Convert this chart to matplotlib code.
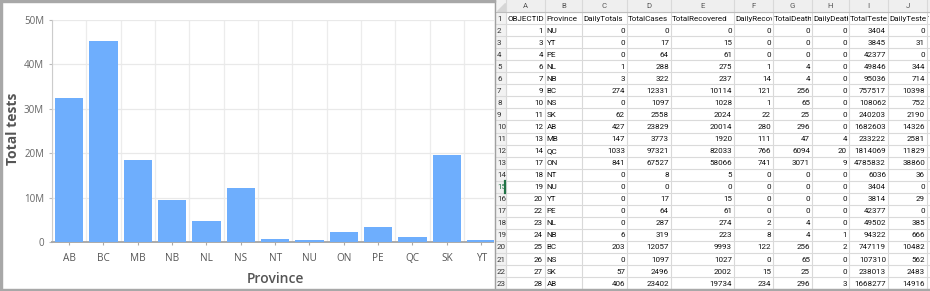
import matplotlib
matplotlib.use('Agg')
import matplotlib.pyplot as plt
from matplotlib.patches import Rectangle
from matplotlib.transforms import Bbox
import numpy as np

# ---------------- chart data ----------------
provinces = ['AB', 'BC', 'MB', 'NB', 'NL', 'NS', 'NT', 'NU', 'ON', 'PE', 'QC', 'SK', 'YT']
total_tests_m = [32.5, 45.2, 18.5, 9.4, 4.65, 12.2, 0.75, 0.4, 2.25, 3.45, 1.1, 19.6, 0.45]
y_ticks = [0, 10, 20, 30, 40, 50]
y_tick_labels = ['0', '10M', '20M', '30M', '40M', '50M']

# ---------------- sheet data ----------------
col_letters = ['A', 'B', 'C', 'D', 'E', 'F', 'G', 'H', 'I', 'J', 'K']
headers = ['OBJECTID', 'Province', 'DailyTotals', 'TotalCases', 'TotalRecovered',
           'DailyRecovered', 'TotalDeaths', 'DailyDeaths', 'TotalTested', 'DailyTested',
           'TotalTestsPer']
object_ids = [1, 3, 4, 6, 7, 9, 10, 11, 12, 13, 14, 17, 18, 19, 20, 22, 23, 24, 25, 26, 27, 28]
sheet_prov = ['NU', 'YT', 'PE', 'NL', 'NB', 'BC', 'NS', 'SK', 'AB', 'MB', 'QC', 'ON',
              'NT', 'NU', 'YT', 'PE', 'NL', 'NB', 'BC', 'NS', 'SK', 'AB']
daily_totals = [0, 0, 0, 1, 3, 274, 0, 62, 427, 147, 1033, 841, 0, 0, 0, 0, 0, 6, 203, 0, 57, 406]
total_cases = [0, 17, 64, 288, 322, 12331, 1097, 2558, 23829, 3773, 97321, 67527,
               8, 0, 17, 64, 287, 319, 12057, 1097, 2496, 23402]
total_recovered = [0, 15, 61, 275, 237, 10114, 1028, 2024, 20014, 1920, 82033, 58066,
                   5, 0, 15, 61, 274, 223, 9993, 1027, 2002, 19734]
daily_recovered = [0, 0, 0, 1, 14, 121, 1, 22, 280, 111, 766, 741, 0, 0, 0, 0, 2, 8, 122, 0, 15, 234]
total_deaths = [0, 0, 0, 4, 4, 256, 65, 25, 296, 47, 6094, 3071, 0, 0, 0, 0, 4, 4, 256, 65, 25, 296]
daily_deaths = [0, 0, 0, 0, 0, 0, 0, 0, 0, 4, 20, 9, 0, 0, 0, 0, 0, 1, 2, 0, 0, 3]
total_tested = [3404, 3845, 42377, 49846, 95036, 757517, 108062, 240203, 1682603, 233222,
                1814069, 4785832, 6036, 3404, 3814, 42377, 49502, 94322, 747119, 107310,
                238013, 1668277]
daily_tested = [0, 31, 0, 344, 714, 10398, 752, 2190, 14326, 2581, 11829, 38860, 36, 0,
                29, 0, 385, 666, 10482, 562, 2483, 14916]

W, H = 930, 291
fig = plt.figure(figsize=(W / 100, H / 100), dpi=100)
fig.patch.set_facecolor('white')

chart_font = ['Open Sans', 'DejaVu Sans']
sheet_font = ['Roboto', 'DejaVu Sans']

# ---------------- chart ----------------
px_left, px_right, px_top, px_bottom = 52, 498.3, 20, 242
ax_w = px_right - px_left
ax_h = px_bottom - px_top
ax = fig.add_axes([px_left / W, 1 - px_bottom / H, ax_w / W, ax_h / H])
x = np.arange(len(provinces))
ax.bar(x, total_tests_m, width=0.82, color='#6eaefd', zorder=3)
ax.set_xlim(-0.5, len(provinces) - 0.5)
ax.set_ylim(0, 50)
ax.set_yticks(y_ticks)
ax.set_yticklabels(y_tick_labels, fontsize=7, color='#666666', family=chart_font)
ax.set_xticks(x)
ax.set_xticklabels(provinces, fontsize=7.2, color='#555555', family=chart_font)
ax.set_xticks(np.arange(len(provinces) + 1) - 0.5, minor=True)
ax.grid(axis='y', which='major', color='#e9e9e9', lw=0.9, zorder=0)
ax.grid(axis='x', which='minor', color='#ececec', lw=0.9, zorder=0)
ax.tick_params(axis='x', which='major', length=2.2, width=0.8, color='#aaaaaa', pad=5.5)
ax.tick_params(axis='x', which='minor', length=0)
ax.tick_params(axis='y', length=2.2, width=0.8, color='#bbbbbb', pad=3.5)
for s in ['top', 'right']:
    ax.spines[s].set_visible(False)
ax.spines['left'].set_color('#cccccc')
ax.spines['left'].set_linewidth(0.8)
ax.spines['bottom'].set_color('#aaaaaa')
ax.spines['bottom'].set_linewidth(1.4)
ax.set_ylabel('Total tests', fontsize=10, fontweight='bold', color='#555555',
              family=chart_font)
ax.set_xlabel('Province', fontsize=10, fontweight='semibold', color='#555555',
              family=chart_font)
ax.xaxis.label.set_va('center')
ax.yaxis.label.set_va('center')
ax.xaxis.set_label_coords((275 - px_left) / ax_w, -(279 - px_bottom) / ax_h)
ax.yaxis.set_label_coords((13 - px_left) / ax_w, (px_bottom - 129) / ax_h)

# panel border
fig.patches.append(Rectangle((0, 0), 2 / W, 1, transform=fig.transFigure, color='#a8a8a8', zorder=10))
fig.patches.append(Rectangle((0, 1 - 2 / H), 495 / W, 2 / H, transform=fig.transFigure, color='#a8a8a8', zorder=10))

# ---------------- spreadsheet ----------------
sx0 = 494
ax2 = fig.add_axes([sx0 / W, 0, (W - sx0) / W, 1])
ax2.set_xlim(sx0, W)
ax2.set_ylim(H, 0)
ax2.axis('off')
ax2.set_zorder(5)
ax2.add_patch(Rectangle((sx0, 0), W - sx0, H, color='white', zorder=0))

col_edges = [495, 506, 545, 582, 627, 671, 734, 773, 812, 849, 888, 927, 990]
head_h = 12.0
row_h = 12.05
n_rows = 1 + len(object_ids)
sheet_bottom = head_h + n_rows * row_h

ax2.add_patch(Rectangle((495, 0), W - 495, head_h, color='#efefef', zorder=1))
ax2.add_patch(Rectangle((495, 0), col_edges[1] - 495, sheet_bottom, color='#f2f2f2', zorder=1))
ax2.add_patch(plt.Polygon([[496.5, 10.5], [504.5, 10.5], [504.5, 2.5]], closed=True,
                          color='#d6d6d6', zorder=2))

for xe in col_edges[1:-1]:
    ax2.plot([xe, xe], [0, sheet_bottom], color='#d9d9d9', lw=0.8, zorder=2)
ax2.plot([495, 495], [0, H], color='#a0a0a0', lw=1.0, zorder=3)
for r in range(n_rows + 1):
    yy = head_h + r * row_h
    ax2.plot([495, W], [yy, yy], color='#dadada' if r > 0 else '#bdbdbd', lw=0.8, zorder=2)

fig.canvas.draw()


def clip_to(t, x0, x1, y0, y1):
    p0 = ax2.transData.transform((x0, y0))
    p1 = ax2.transData.transform((x1, y1))
    bb = Bbox.from_extents(min(p0[0], p1[0]), min(p0[1], p1[1]),
                           max(p0[0], p1[0]), max(p0[1], p1[1]))
    t.set_clip_box(bb)
    t.set_clip_on(True)


fs = 5.8
for i, letter in enumerate(col_letters):
    xc = (col_edges[i + 1] + col_edges[i + 2]) / 2
    if col_edges[i + 1] < W:
        t = ax2.text(xc, head_h / 2 + 0.5, letter, ha='center', va='center', fontsize=5.6,
                     color='#555555', family=sheet_font, zorder=4)
        clip_to(t, col_edges[i + 1], min(col_edges[i + 2], W), 0, head_h)

for r in range(n_rows):
    yc = head_h + (r + 0.5) * row_h
    colr = '#217346' if r + 1 == 15 else '#333333'
    ax2.text(497, yc + 0.5, str(r + 1), ha='left', va='center', fontsize=fs,
             color=colr, family=sheet_font, zorder=4)
ax2.plot([505.3, 505.3], [head_h + 14 * row_h, head_h + 15 * row_h], color='#217346', lw=1.6, zorder=4)

for j, h in enumerate(headers):
    x0, x1 = col_edges[j + 1], col_edges[j + 2]
    t = ax2.text(x0 + 1.2, head_h + row_h / 2 + 0.5, h, ha='left', va='center', fontsize=fs,
                 color='#111111', family=sheet_font, zorder=4)
    clip_to(t, x0, min(x1, W) - 0.6, head_h, head_h + row_h)

columns = [object_ids, sheet_prov, daily_totals, total_cases, total_recovered,
           daily_recovered, total_deaths, daily_deaths, total_tested, daily_tested]
for j, col in enumerate(columns):
    x0, x1 = col_edges[j + 1], col_edges[j + 2]
    for r, v in enumerate(col):
        yc = head_h + (r + 1.5) * row_h + 0.5
        if isinstance(v, str):
            ax2.text(x0 + 1.5, yc, v, ha='left', va='center', fontsize=fs,
                     color='#111111', family=sheet_font, zorder=4)
        else:
            ax2.text(x1 - 2, yc, str(v), ha='right', va='center', fontsize=fs,
                     color='#111111', family=sheet_font, zorder=4)

fig.patches.append(Rectangle((0, 0), 1, 2.5 / H, transform=fig.transFigure, color='#a8a8a8', zorder=10))

fig.savefig('out.png', dpi=100, facecolor='white')
